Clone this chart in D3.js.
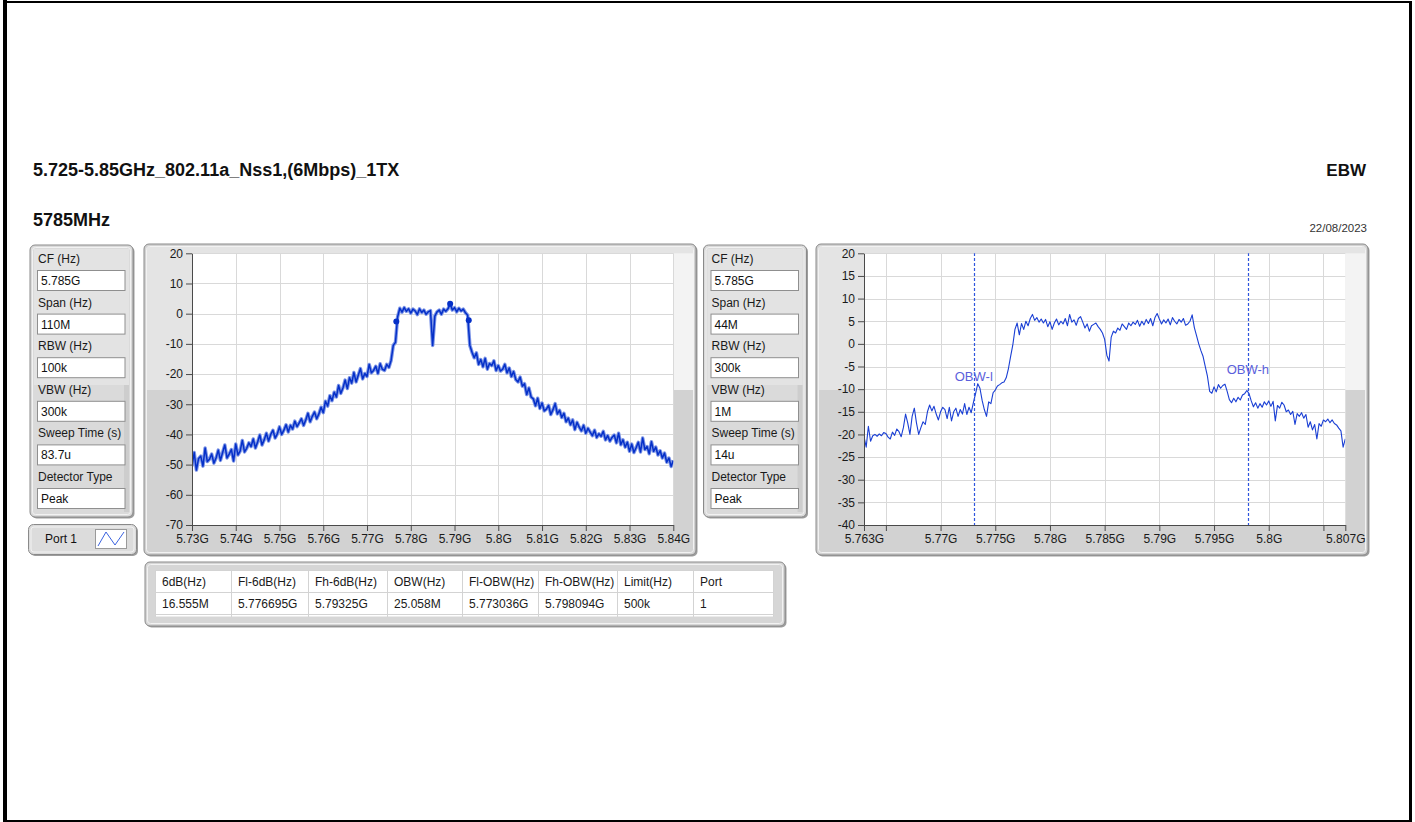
<!DOCTYPE html>
<html>
<head>
<meta charset="utf-8">
<script src="https://cdn.jsdelivr.net/npm/d3@7"></script>
<style>
  body { margin: 0; background: #fff; }
  svg { display: block; font-family: "Segoe UI", Arial, "Liberation Sans", sans-serif; }
</style>
</head>
<body>
<svg id="chart" width="1415" height="822"></svg>
<script>
// ---- texts
const titleText = '5.725-5.85GHz_802.11a_Nss1,(6Mbps)_1TX'
const channelText = '5785MHz'
const testName = 'EBW'
const testDate = '22/08/2023'

// ---- analyser settings
const paramLabels = ['CF (Hz)', 'Span (Hz)', 'RBW (Hz)', 'VBW (Hz)', 'Sweep Time (s)', 'Detector Type']
const leftParamValues = ['5.785G', '110M', '100k', '300k', '83.7u', 'Peak']
const rightParamValues = ['5.785G', '44M', '300k', '1M', '14u', 'Peak']
const portName = 'Port 1'

// ---- result table
const tableHeaders = ['6dB(Hz)', 'Fl-6dB(Hz)', 'Fh-6dB(Hz)', 'OBW(Hz)', 'Fl-OBW(Hz)', 'Fh-OBW(Hz)', 'Limit(Hz)', 'Port']
const tableValues = ['16.555M', '5.776695G', '5.79325G', '25.058M', '5.773036G', '5.798094G', '500k', '1']

// ---- left graph (110 MHz span), level in dB, one point every 0.5 MHz from 5.73 GHz
const leftStartGHz = 5.73
const leftStepGHz = 0.0005
const leftTrace = [
  -50.5, -46.0, -51.8, -48.0, -47.2, -50.5, -44.5, -49.0, -48.2, -46.5,
  -49.5, -47.8, -45.2, -48.6, -46.0, -43.5, -47.8, -46.5, -45.0, -48.8,
  -43.2, -46.8, -45.5, -42.0, -45.8, -44.6, -42.8, -44.0, -41.5, -44.5,
  -42.5, -40.2, -43.5, -41.8, -39.6, -42.2, -40.0, -38.6, -41.2, -39.8,
  -37.5, -40.0, -38.6, -36.8, -39.2, -37.0, -38.2, -35.6, -37.4, -36.2,
  -34.8, -37.0, -35.2, -33.0, -35.8, -34.0, -32.6, -34.8, -33.2, -31.0,
  -32.8, -29.0, -30.6, -27.2, -28.8, -26.0, -27.6, -23.8, -26.4, -24.6,
  -22.0, -24.8, -21.2, -23.0, -19.5, -22.6, -20.4, -18.2, -21.6, -19.8,
  -20.8, -16.8, -19.6, -18.8, -17.4, -19.8, -16.6, -18.4, -18.8, -16.8,
  -17.8, -15.5, -10.5, -9.5, -1.0, 1.8, 0.5, 2.0, 0.8, 1.6,
  0.2, 1.5, 0.9, -0.3, 1.6, 0.4, 1.2, -0.2, 0.6, 1.0,
  -10.5, -0.8, 0.6, 1.2, -0.2, 1.5, 0.8, 1.6, 3.3, 1.2,
  2.0, 0.6, 1.8, 0.9, 1.5, 0.3, -0.5, -10.5, -12.8, -14.6,
  -13.0, -16.8, -15.2, -17.6, -14.8, -18.4, -16.5, -17.2, -15.6, -18.8,
  -17.2, -19.0, -18.4, -16.8, -19.6, -18.0, -20.8, -19.2, -21.8, -22.6,
  -21.0, -24.0, -23.2, -26.8, -24.6, -27.6, -28.2, -30.5, -28.0, -31.4,
  -29.6, -32.2, -31.6, -30.4, -33.4, -31.8, -29.8, -33.2, -32.0, -34.4,
  -33.0, -35.8, -34.6, -36.8, -35.2, -38.4, -36.0, -37.6, -38.8, -37.0,
  -39.6, -38.0, -39.2, -40.4, -38.6, -41.0, -39.8, -40.6, -39.0, -41.8,
  -40.4, -42.2, -41.0, -40.2, -42.8, -39.6, -43.4, -41.8, -44.2, -42.6,
  -45.6, -43.2, -46.0, -44.4, -42.6, -45.8, -41.2, -45.0, -44.0, -46.4,
  -42.4, -45.6, -44.2, -46.8, -45.4, -47.8, -46.2, -49.2, -47.8, -50.6,
  -48.6
]
const leftMarkerGHz = [5.776695, 5.789, 5.79325]
const leftMarkerDb = [-2.6, 3.3, -2.2]
const leftXTicks = [5.73, 5.74, 5.75, 5.76, 5.77, 5.78, 5.79, 5.80, 5.81, 5.82, 5.83, 5.84]
const leftXLabels = ['5.73G', '5.74G', '5.75G', '5.76G', '5.77G', '5.78G', '5.79G', '5.8G', '5.81G', '5.82G', '5.83G', '5.84G']
const leftYTicks = [20, 10, 0, -10, -20, -30, -40, -50, -60, -70]

// ---- right graph (44 MHz span), one point every 0.2 MHz from 5.763 GHz
const rightStartGHz = 5.763
const rightStepGHz = 0.0002
const rightTrace = [
  -20.5, -22.8, -18.2, -21.5, -20.3, -20.0, -20.4, -19.9, -20.3, -19.6,
  -19.8, -20.6, -21.0, -19.5, -20.2, -18.8, -19.4, -20.5, -18.5, -15.5,
  -17.5, -20.0, -16.0, -14.2, -17.5, -20.0, -18.5, -17.2, -17.8, -15.0,
  -13.5, -14.8, -13.8, -15.5, -16.8, -15.0, -14.0, -14.5, -16.5, -14.0,
  -17.0, -15.0, -14.2, -16.0, -14.5, -15.5, -13.2, -15.6, -14.0, -15.2,
  -13.0, -11.0, -8.8, -9.8, -12.5, -14.5, -16.0, -12.8, -13.2, -10.8,
  -10.2, -9.3, -9.0, -8.6, -8.4, -7.5, -5.5, -2.8, -0.3, 3.2,
  4.6, 2.0, 4.5, 3.2, 5.0, 4.0, 5.6, 6.5, 5.2, 5.8,
  4.8, 5.5, 4.6, 5.4, 3.8, 4.9, 3.2, 4.6, 5.5, 4.2,
  5.0, 4.4, 5.6, 4.0, 6.5, 4.8, 5.3, 4.1, 5.6, 6.0,
  4.8, 3.5, 4.4, 2.8, 4.0, 4.3, 4.6, 3.8, 3.2, 2.4,
  1.0, -2.5, -3.8, 1.5, 2.8, 2.4, 3.5, 3.0, 4.4, 3.8,
  3.2, 4.6, 4.0, 4.8, 4.3, 5.2, 3.9, 5.0, 4.2, 5.4,
  4.5, 5.6, 4.0, 5.8, 6.7, 5.5, 4.4, 5.3, 4.6, 5.5,
  4.2, 5.8, 5.0, 4.4, 5.4, 4.8, 5.6, 4.1, 4.4, 5.0,
  6.4, 3.6, 1.8, 0.0, -1.5, -2.8, -5.0, -7.2, -10.5, -10.9,
  -9.5, -10.6, -9.0, -9.8, -9.2, -8.9, -10.5, -12.3, -13.0, -12.0,
  -12.8, -11.8, -12.4, -11.3, -11.0, -10.3, -11.0, -12.6, -13.9, -13.0,
  -14.2, -13.2, -14.0, -12.8, -13.5, -12.6, -13.8, -12.7, -17.0, -13.6,
  -14.2, -12.9, -13.5, -15.0, -14.6, -15.6, -14.9, -17.8, -15.4, -16.0,
  -15.2, -16.4, -15.6, -18.4, -17.2, -19.0, -17.8, -21.0, -17.6, -18.2,
  -16.8, -17.2, -16.6, -17.4, -16.8, -17.6, -17.9, -18.6, -19.2, -22.8,
  -21.0
]
const obwNames = ['OBW-l', 'OBW-h']
const obwGHz = [5.773036, 5.798094]
const obwLabelDb = [-7.3, -5.6]
const rightXTicks = [5.763, 5.765, 5.77, 5.775, 5.78, 5.785, 5.79, 5.795, 5.80, 5.805, 5.807]
const rightXLabels = ['5.763G', '', '5.77G', '5.775G', '5.78G', '5.785G', '5.79G', '5.795G', '5.8G', '', '5.807G']
const rightYTicks = [20, 15, 10, 5, 0, -5, -10, -15, -20, -25, -30, -35, -40]

const svg = d3.select('#chart')
const traceBlue = '#0530c8'

// page frame
svg.append('rect').attr('x', 3).attr('y', 0).attr('width', 4).attr('height', 822).attr('fill', '#000')
svg.append('rect').attr('x', 3).attr('y', 1).attr('width', 1409).attr('height', 2).attr('fill', '#000')
svg.append('rect').attr('x', 1409).attr('y', 1).attr('width', 3).attr('height', 821).attr('fill', '#000')
svg.append('rect').attr('x', 3).attr('y', 820).attr('width', 1409).attr('height', 2).attr('fill', '#000')

// headings
svg.append('text').attr('x', 33).attr('y', 176).attr('font-size', 18).attr('font-weight', 'bold').attr('fill', '#111').text(titleText)
svg.append('text').attr('x', 33).attr('y', 226).attr('font-size', 18).attr('font-weight', 'bold').attr('fill', '#111').text(channelText)
svg.append('text').attr('x', 1366).attr('y', 176).attr('text-anchor', 'end').attr('font-size', 17).attr('font-weight', 'bold').attr('fill', '#111').text(testName)
svg.append('text').attr('x', 1367).attr('y', 232).attr('text-anchor', 'end').attr('font-size', 11.5).attr('fill', '#333').text(testDate)

function panel(x, y, w, h, fill) {
    svg.append('rect').attr('x', x + 1.5).attr('y', y + 1.5).attr('width', w).attr('height', h)
        .attr('rx', 5).attr('fill', '#9d9d9d')
    svg.append('rect').attr('x', x).attr('y', y).attr('width', w).attr('height', h)
        .attr('rx', 5).attr('fill', fill || '#d9d9d9').attr('stroke', '#8a8a8a')
    svg.append('rect').attr('x', x + 2.5).attr('y', y + 2.5).attr('width', w - 5).attr('height', h - 5)
        .attr('rx', 3).attr('fill', 'none').attr('stroke', '#f2f2f2')
}

function paramPanel(x, values) {
    panel(x, 245, 103, 272, '#dadada')
    svg.append('rect').attr('x', x + 4).attr('y', 249).attr('width', 95).attr('height', 136).attr('fill', '#e3e3e3')
    svg.append('rect').attr('x', x + 94).attr('y', 385).attr('width', 5).attr('height', 127).attr('fill', '#cdcdcd')
    paramLabels.forEach((label, i) => {
        const top = 250 + i * 43.6
        svg.append('text').attr('x', x + 8).attr('y', top + 13).attr('font-size', 12).attr('fill', '#1a1a1a').text(label)
        svg.append('rect').attr('x', x + 7.5).attr('y', top + 20.5).attr('width', 87.5).attr('height', 20)
            .attr('fill', '#fff').attr('stroke', '#8f8f8f')
        svg.append('text').attr('x', x + 11).attr('y', top + 35).attr('font-size', 12).attr('fill', '#111').text(values[i])
    })
}

paramPanel(30, leftParamValues)
paramPanel(703.5, rightParamValues)

// port selector
panel(28.5, 524.5, 108, 30, '#dcdcdc')
svg.append('text').attr('x', 61).attr('y', 543).attr('text-anchor', 'middle').attr('font-size', 12).attr('fill', '#111').text(portName)
svg.append('rect').attr('x', 95.5).attr('y', 529.5).attr('width', 31).attr('height', 19).attr('fill', '#fff').attr('stroke', '#9a9a9a')
svg.append('polyline').attr('points', '98,546 106,532 115,545 124,532')
    .attr('fill', 'none').attr('stroke', '#3b63e0').attr('stroke-width', 1)

function graph(cfg) {
    const px0 = cfg.left, px1 = cfg.left + 481.3, py0 = 253.3, py1 = 525
    panel(cfg.left - 48, 244, 552, 311, '#d2d2d2')
    svg.append('rect').attr('x', cfg.left - 45).attr('y', 247).attr('width', 546).attr('height', 143).attr('fill', '#e4e4e4')
    svg.append('rect').attr('x', px1).attr('y', py0).attr('width', 20).attr('height', 390 - py0).attr('fill', '#f3f3f3')

    const x = d3.scaleLinear().domain(cfg.xDomain).range([px0, px1])
    const y = d3.scaleLinear().domain(cfg.yDomain).range([py1, py0])

    svg.append('rect').attr('x', px0).attr('y', py0).attr('width', px1 - px0).attr('height', py1 - py0).attr('fill', '#fff')

    const grid = svg.append('g').attr('stroke', '#d9d9d9').attr('stroke-width', 1)
    grid.selectAll('line.gx').data(cfg.xGrid).join('line').attr('class', 'gx')
        .attr('x1', d => Math.round(x(d)) + 0.5).attr('x2', d => Math.round(x(d)) + 0.5)
        .attr('y1', py0).attr('y2', py1)
    grid.selectAll('line.gy').data(cfg.yTicks).join('line').attr('class', 'gy')
        .attr('x1', px0).attr('x2', px1)
        .attr('y1', d => Math.round(y(d)) + 0.5).attr('y2', d => Math.round(y(d)) + 0.5)

    const clipId = 'clip' + cfg.left
    svg.append('clipPath').attr('id', clipId).append('rect')
        .attr('x', px0).attr('y', py0).attr('width', px1 - px0).attr('height', py1 - py0)
    const plot = svg.append('g').attr('clip-path', 'url(#' + clipId + ')')

    const line = d3.line()
        .x((d, i) => x(cfg.start + i * cfg.step))
        .y(d => y(d))
    if (cfg.halo) {
        plot.append('path').datum(cfg.trace).attr('d', line)
            .attr('fill', 'none').attr('stroke', cfg.halo).attr('stroke-width', cfg.width + 2)
            .attr('stroke-linejoin', 'round')
    }
    plot.append('path').datum(cfg.trace).attr('d', line)
        .attr('fill', 'none').attr('stroke', cfg.color).attr('stroke-width', cfg.width)
        .attr('stroke-linejoin', 'round')

    const xAxis = svg.append('g').attr('transform', 'translate(0,' + py1 + ')')
        .call(d3.axisBottom(x).tickValues(cfg.xTicks).tickFormat((d, i) => cfg.xLabels[i]).tickSizeOuter(0))
    const yAxis = svg.append('g').attr('transform', 'translate(' + px0 + ',0)')
        .call(d3.axisLeft(y).tickValues(cfg.yTicks).tickFormat(d => d).tickSizeOuter(0))
    ;[xAxis, yAxis].forEach(a => {
        a.attr('font-family', null).attr('font-size', 12)
        a.select('.domain').attr('stroke', '#4a4a4a')
        a.selectAll('.tick line').attr('stroke', '#4a4a4a')
        a.selectAll('.tick text').attr('fill', '#1a1a1a')
    })
    return { x, y, plot }
}

const left = graph({
    left: 192, xDomain: [5.73, 5.84], yDomain: [-70, 20],
    xTicks: leftXTicks, xLabels: leftXLabels, xGrid: leftXTicks, yTicks: leftYTicks,
    start: leftStartGHz, step: leftStepGHz, trace: leftTrace, color: traceBlue, width: 1.5, halo: '#7d95e6'
})
left.plot.selectAll('circle').data(leftMarkerGHz).join('circle')
    .attr('cx', d => left.x(d)).attr('cy', (d, i) => left.y(leftMarkerDb[i]))
    .attr('r', 3).attr('fill', traceBlue)

const right = graph({
    left: 864, xDomain: [5.763, 5.807], yDomain: [-40, 20],
    xTicks: rightXTicks, xLabels: rightXLabels, xGrid: rightXTicks.slice(1, -1), yTicks: rightYTicks,
    start: rightStartGHz, step: rightStepGHz, trace: rightTrace, color: '#1a3fd4', width: 1.1
})
right.plot.selectAll('line.obw').data(obwGHz).join('line').attr('class', 'obw')
    .attr('x1', d => Math.round(right.x(d)) + 0.5).attr('x2', d => Math.round(right.x(d)) + 0.5)
    .attr('y1', 253).attr('y2', 525)
    .attr('stroke', '#2f55dd').attr('stroke-width', 1.2).attr('stroke-dasharray', '3,2')
right.plot.selectAll('text.obw').data(obwGHz).join('text').attr('class', 'obw')
    .attr('x', d => right.x(d)).attr('y', (d, i) => right.y(obwLabelDb[i]) + 4.5)
    .attr('text-anchor', 'middle').attr('font-size', 13).attr('fill', '#5b5fdc')
    .text((d, i) => obwNames[i])

// result table
panel(145, 562, 640, 64, '#d6d6d6')
const colEdges = [155, 231, 308, 387, 462, 538, 617, 693, 773]
const table = svg.append('g')
table.append('rect').attr('x', 155).attr('y', 570.5).attr('width', 618).attr('height', 46).attr('fill', '#fff')
table.selectAll('line.col').data(colEdges).join('line').attr('class', 'col')
    .attr('x1', d => d + 0.5).attr('x2', d => d + 0.5).attr('y1', 570.5).attr('y2', 617)
    .attr('stroke', '#d3d3d3')
table.selectAll('line.row').data([570.5, 592.5, 614.5]).join('line').attr('class', 'row')
    .attr('x1', 155).attr('x2', 773.5).attr('y1', d => d).attr('y2', d => d)
    .attr('stroke', '#d3d3d3')
table.selectAll('text.head').data(tableHeaders).join('text').attr('class', 'head')
    .attr('x', (d, i) => colEdges[i] + 7).attr('y', 586).attr('font-size', 12).attr('fill', '#1a1a1a').text(d => d)
table.selectAll('text.val').data(tableValues).join('text').attr('class', 'val')
    .attr('x', (d, i) => colEdges[i] + 7).attr('y', 608).attr('font-size', 12).attr('fill', '#1a1a1a').text(d => d)
</script>
</body>
</html>
